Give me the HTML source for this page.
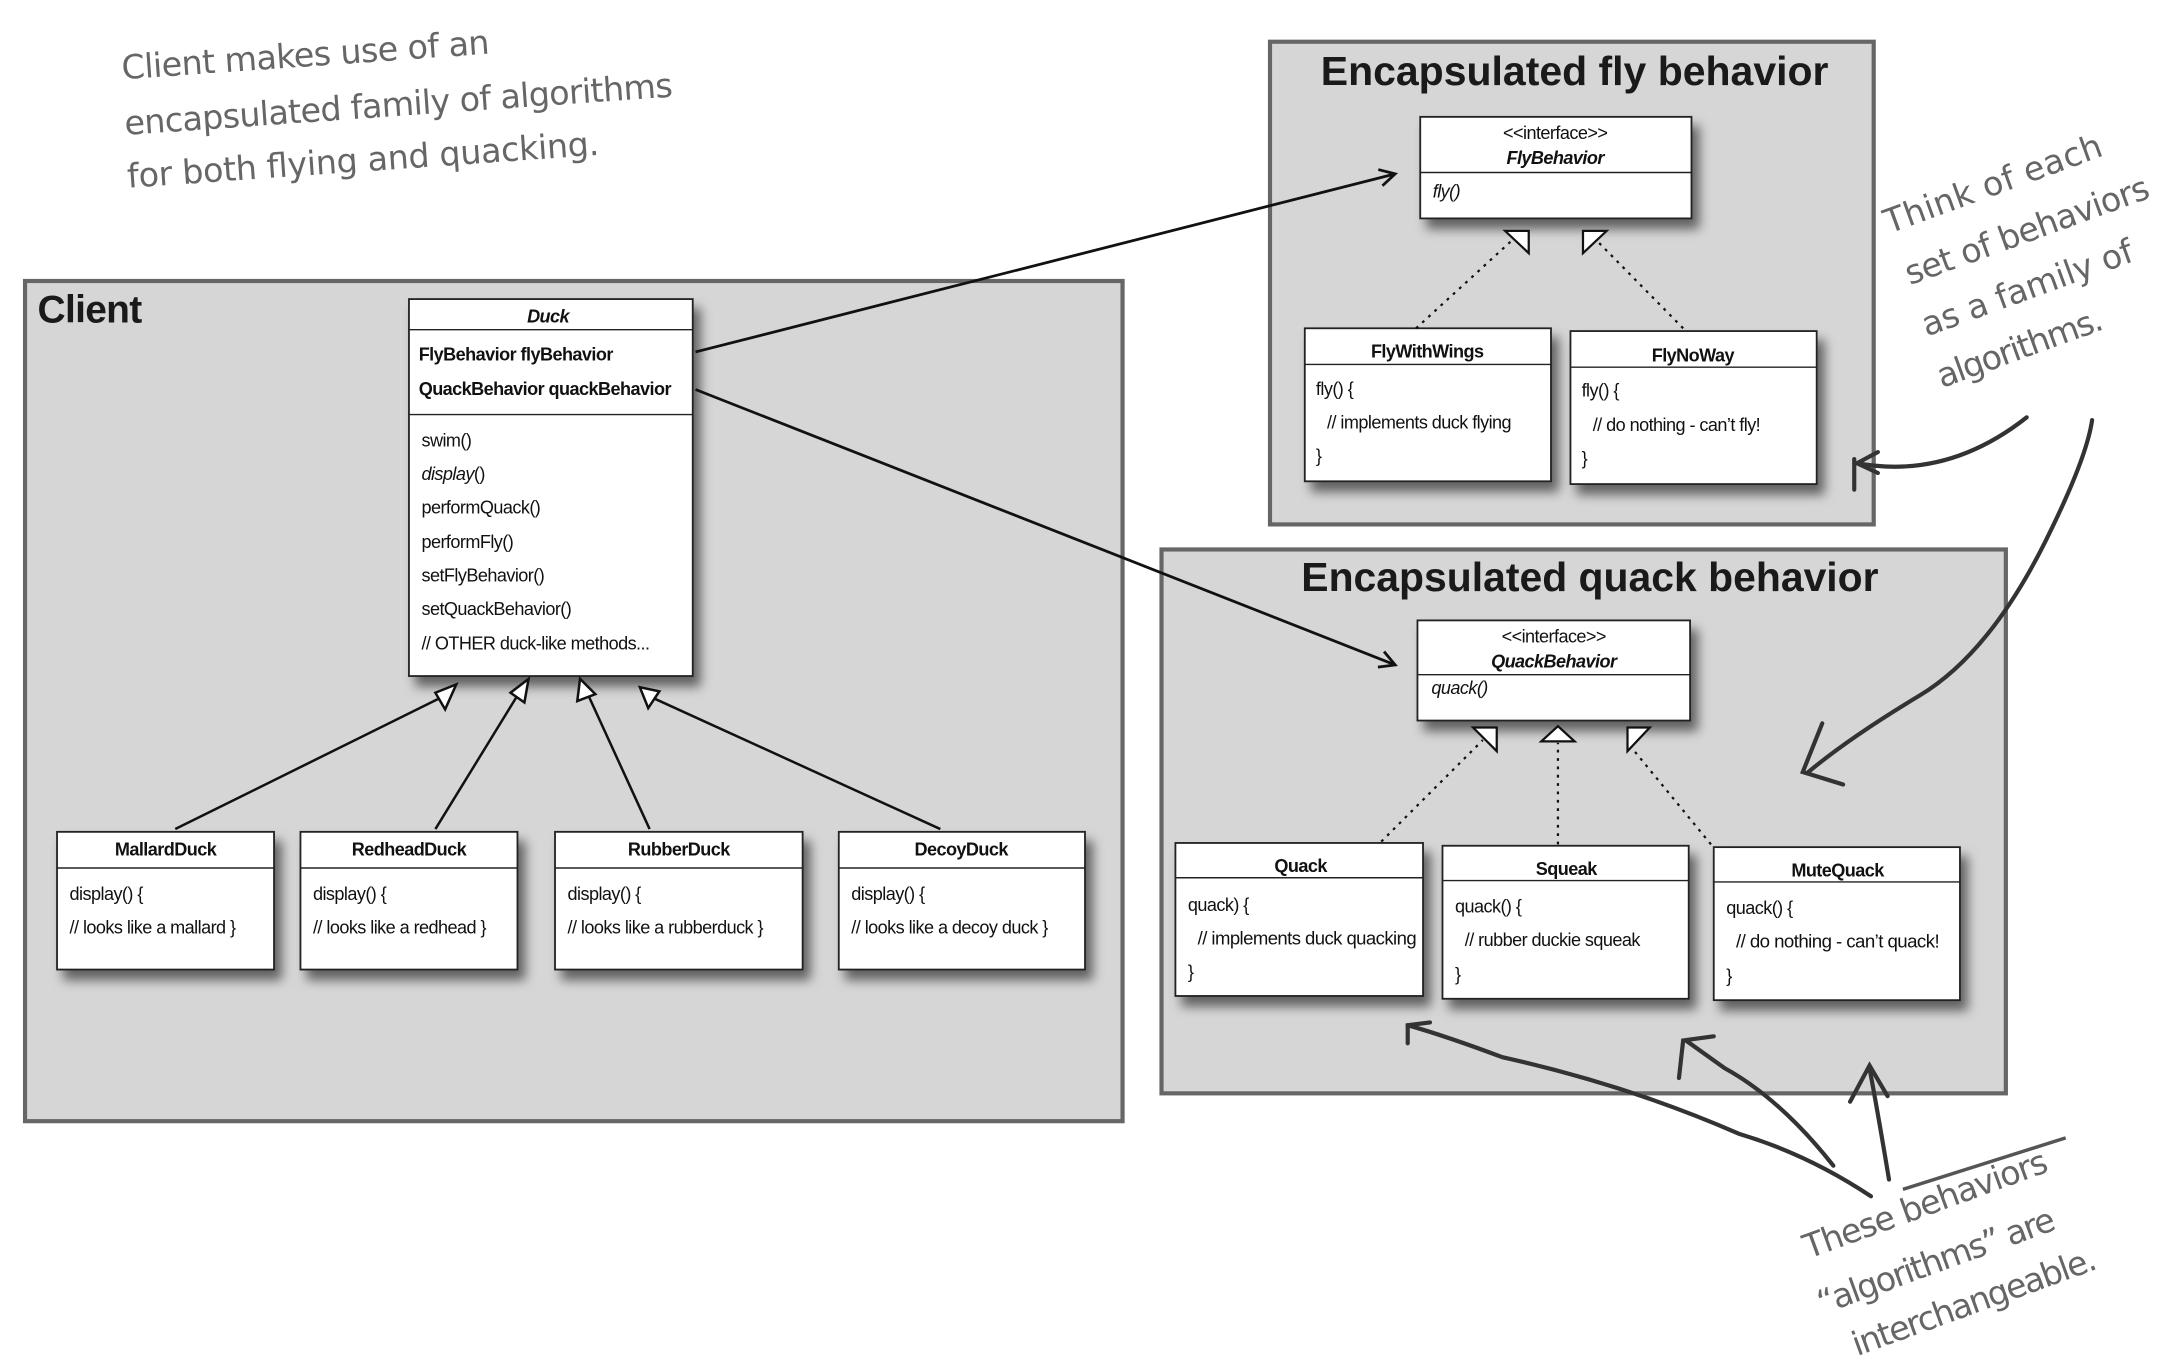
<!DOCTYPE html>
<html><head><meta charset="utf-8"><style>
html,body{margin:0;padding:0;background:#fff;width:2170px;height:1366px;overflow:hidden}
svg{display:block}
.c{font-family:"Liberation Sans",sans-serif;font-size:13px;letter-spacing:-0.4px;fill:#111}
.b{font-weight:bold}
.i{font-style:italic}
.h{font-family:"Liberation Sans",sans-serif;font-weight:bold;fill:#1a1a1a}
.hw{font-family:"DejaVu Sans","Liberation Sans",sans-serif;fill:#666;font-size:24px}
.box{fill:#fff;stroke:#222;stroke-width:1.3}
</style></head><body>
<svg width="2170" height="1366" viewBox="0 0 1560 982" xmlns="http://www.w3.org/2000/svg">
<defs>
<filter id="sh" x="-20%" y="-20%" width="150%" height="150%"><feDropShadow dx="5" dy="7" stdDeviation="4" flood-color="#000" flood-opacity="0.55"/></filter>
<marker id="ar" markerWidth="14" markerHeight="14" refX="12" refY="7" orient="auto" markerUnits="userSpaceOnUse"><path d="M1,1 L12,7 L1,13" fill="none" stroke="#111" stroke-width="2"/></marker>
</defs>
<rect x="18" y="202" width="789" height="604" fill="#d6d6d6" stroke="#666" stroke-width="3"/>
<rect x="913" y="30" width="434" height="347" fill="#d6d6d6" stroke="#666" stroke-width="3"/>
<rect x="835" y="395" width="607" height="391" fill="#d6d6d6" stroke="#666" stroke-width="3"/>
<text x="27" y="232" class="h" font-size="28" letter-spacing="-0.5">Client</text>
<text x="1132" y="61" class="h" font-size="29" text-anchor="middle" textLength="365" lengthAdjust="spacingAndGlyphs">Encapsulated fly behavior</text>
<text x="1143" y="425" class="h" font-size="29" text-anchor="middle" textLength="415" lengthAdjust="spacingAndGlyphs">Encapsulated quack behavior</text>

<g filter="url(#sh)"><rect x="294" y="215" width="204" height="271" class="box"/></g>
<line x1="294" y1="237" x2="498" y2="237" stroke="#222"/>
<line x1="294" y1="298" x2="498" y2="298" stroke="#222"/>
<text x="394" y="232" class="c b i" text-anchor="middle" font-size="14">Duck</text>
<text x="301" y="259" class="c b">FlyBehavior flyBehavior</text>
<text x="301" y="284" class="c b">QuackBehavior quackBehavior</text>
<text x="303" y="321" class="c">swim()</text>
<text x="303" y="345" class="c"><tspan class="i">display</tspan>()</text>
<text x="303" y="369" class="c">performQuack()</text>
<text x="303" y="394" class="c">performFly()</text>
<text x="303" y="418" class="c">setFlyBehavior()</text>
<text x="303" y="442" class="c">setQuackBehavior()</text>
<text x="303" y="467" class="c">// OTHER duck-like methods...</text>

<g filter="url(#sh)">
<rect x="41" y="598" width="156" height="99" class="box"/>
<rect x="216" y="598" width="156" height="99" class="box"/>
<rect x="399" y="598" width="178" height="99" class="box"/>
<rect x="603" y="598" width="177" height="99" class="box"/>
</g>
<g stroke="#222"><line x1="41" y1="624" x2="197" y2="624"/><line x1="216" y1="624" x2="372" y2="624"/><line x1="399" y1="624" x2="577" y2="624"/><line x1="603" y1="624" x2="780" y2="624"/></g>
<text x="119" y="615" class="c b" text-anchor="middle" font-size="14">MallardDuck</text>
<text x="294" y="615" class="c b" text-anchor="middle" font-size="14">RedheadDuck</text>
<text x="488" y="615" class="c b" text-anchor="middle" font-size="14">RubberDuck</text>
<text x="691" y="615" class="c b" text-anchor="middle" font-size="14">DecoyDuck</text>
<text x="50" y="647" class="c">display() {</text><text x="50" y="671" class="c">// looks like a mallard }</text>
<text x="225" y="647" class="c">display() {</text><text x="225" y="671" class="c">// looks like a redhead }</text>
<text x="408" y="647" class="c">display() {</text><text x="408" y="671" class="c">// looks like a rubberduck }</text>
<text x="612" y="647" class="c">display() {</text><text x="612" y="671" class="c">// looks like a decoy duck }</text>

<g stroke="#111" stroke-width="1.8" fill="#fff">
<line x1="126" y1="596" x2="320" y2="500"/><polygon points="328,492 313,498 320,510"/>
<line x1="313" y1="596" x2="372" y2="500"/><polygon points="380,488 367,498 377,505"/>
<line x1="467" y1="596" x2="423" y2="500"/><polygon points="417,488 415,504 428,499"/>
<line x1="676" y1="596" x2="470" y2="502"/><polygon points="460,494 466,509 474,497"/>
</g>

<line x1="500" y1="253" x2="1003" y2="125" stroke="#111" stroke-width="2" marker-end="url(#ar)"/>
<line x1="500" y1="280" x2="1003" y2="478" stroke="#111" stroke-width="2" marker-end="url(#ar)"/>

<g filter="url(#sh)">
<rect x="1021" y="84" width="195" height="73" class="box"/>
<rect x="938" y="236" width="177" height="110" class="box"/>
<rect x="1129" y="238" width="177" height="110" class="box"/>
</g>
<g stroke="#222"><line x1="1021" y1="124" x2="1216" y2="124"/><line x1="938" y1="262" x2="1115" y2="262"/><line x1="1129" y1="264" x2="1306" y2="264"/></g>
<text x="1118" y="100" class="c" text-anchor="middle" font-size="12">&lt;&lt;interface&gt;&gt;</text>
<text x="1118" y="118" class="c b i" text-anchor="middle" font-size="14">FlyBehavior</text>
<text x="1030" y="142" class="c i">fly()</text>
<text x="1026" y="257" class="c b" text-anchor="middle" font-size="14">FlyWithWings</text>
<text x="1217" y="260" class="c b" text-anchor="middle" font-size="14">FlyNoWay</text>
<text x="946" y="284" class="c">fly() {</text><text x="954" y="308" class="c">// implements duck flying</text><text x="946" y="332" class="c">}</text>
<text x="1137" y="285" class="c">fly() {</text><text x="1145" y="310" class="c">// do nothing - can’t fly!</text><text x="1137" y="334" class="c">}</text>
<g stroke="#111" stroke-width="1.6" stroke-dasharray="2,4" fill="none"><line x1="1018" y1="236" x2="1090" y2="170"/><line x1="1210" y1="236" x2="1145" y2="170"/></g>
<g stroke="#111" stroke-width="1.6" fill="#fff"><polygon points="1082,166 1099,166 1099,182"/><polygon points="1138,166 1155,166 1138,182"/></g>

<g filter="url(#sh)">
<rect x="1019" y="446" width="196" height="72" class="box"/>
<rect x="845" y="606" width="178" height="110" class="box"/>
<rect x="1037" y="608" width="177" height="110" class="box"/>
<rect x="1232" y="609" width="177" height="110" class="box"/>
</g>
<g stroke="#222"><line x1="1019" y1="485" x2="1215" y2="485"/><line x1="845" y1="631" x2="1023" y2="631"/><line x1="1037" y1="633" x2="1214" y2="633"/><line x1="1232" y1="634" x2="1409" y2="634"/></g>
<text x="1117" y="462" class="c" text-anchor="middle" font-size="12">&lt;&lt;interface&gt;&gt;</text>
<text x="1117" y="480" class="c b i" text-anchor="middle" font-size="14">QuackBehavior</text>
<text x="1029" y="499" class="c i">quack()</text>
<text x="935" y="627" class="c b" text-anchor="middle" font-size="14">Quack</text>
<text x="1126" y="629" class="c b" text-anchor="middle" font-size="14">Squeak</text>
<text x="1321" y="630" class="c b" text-anchor="middle" font-size="14">MuteQuack</text>
<text x="854" y="655" class="c">quack) {</text><text x="861" y="679" class="c" textLength="157" lengthAdjust="spacingAndGlyphs">// implements duck quacking</text><text x="854" y="703" class="c">}</text>
<text x="1046" y="656" class="c">quack() {</text><text x="1053" y="680" class="c">// rubber duckie squeak</text><text x="1046" y="705" class="c">}</text>
<text x="1241" y="657" class="c">quack() {</text><text x="1248" y="681" class="c" textLength="146" lengthAdjust="spacingAndGlyphs">// do nothing - can’t quack!</text><text x="1241" y="706" class="c">}</text>
<g stroke="#111" stroke-width="1.6" stroke-dasharray="2,4" fill="none"><line x1="993" y1="605" x2="1066" y2="532"/><line x1="1120" y1="607" x2="1120" y2="534"/><line x1="1230" y1="607" x2="1175" y2="540"/></g>
<g stroke="#111" stroke-width="1.6" fill="#fff"><polygon points="1059,523 1076,523 1076,540"/><polygon points="1108,533 1132,533 1120,522"/><polygon points="1170,523 1186,523 1170,540"/></g>

<g class="hw">
<text transform="translate(88,57) rotate(-4)" textLength="265">Client makes use of an</text>
<text transform="translate(90,97) rotate(-4)" textLength="395">encapsulated family of algorithms</text>
<text transform="translate(92,135) rotate(-4)" textLength="340">for both flying and quacking.</text>
<text transform="translate(1358,168) rotate(-20)" textLength="165">Think of each</text>
<text transform="translate(1373,205) rotate(-20)" textLength="185">set of behaviors</text>
<text transform="translate(1385,242) rotate(-20)" textLength="160">as a family of</text>
<text transform="translate(1396,279) rotate(-20)" textLength="125">algorithms.</text>
<text transform="translate(1300,905) rotate(-20)" textLength="185">These behaviors</text>
<text transform="translate(1310,945) rotate(-20)" textLength="180">“algorithms” are</text>
<text transform="translate(1335,975) rotate(-20)" textLength="185">interchangeable.</text>
</g>
<line x1="1368" y1="855" x2="1485" y2="818" stroke="#555" stroke-width="2.5"/>
<g stroke="#333" stroke-width="3" fill="none" stroke-linecap="round">
<path d="M1457,300 Q1400,345 1335,333"/><path d="M1350,325 L1335,333 L1350,340"/>
<path d="M1333,330 L1333,352"/>
<path d="M1504,302 Q1500,330 1470,390 Q1430,470 1380,500 Q1330,530 1300,555"/>
<path d="M1310,520 L1296,555 L1325,564"/>
<path d="M1345,860 Q1300,830 1250,815 Q1170,780 1080,760 Q1040,745 1012,737"/><path d="M1012,750 L1012,737 L1028,735"/>
<path d="M1318,838 Q1280,790 1240,768 L1212,748"/><path d="M1207,775 L1210,748 L1232,745"/>
<path d="M1358,848 Q1350,800 1344,768"/><path d="M1330,792 L1344,766 L1357,788"/>
</g>
</svg>
</body></html>
